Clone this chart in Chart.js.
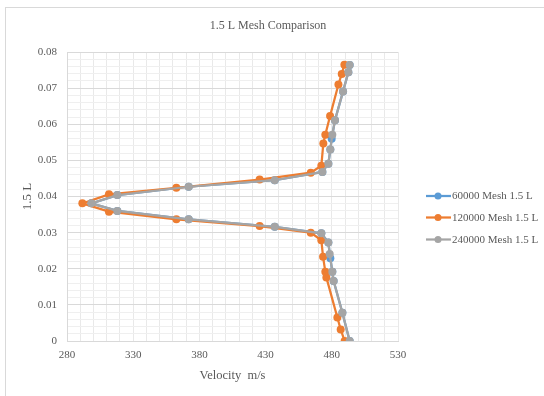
<!DOCTYPE html>
<html lang="en">
<head>
<meta charset="UTF-8">
<title>1.5 L Mesh Comparison</title>
<script src="https://cdn.jsdelivr.net/npm/chart.js"></script>
<style>
  html, body { margin: 0; padding: 0; background: #fff; }
  canvas { display: block; }
</style>
</head>
<body>
<canvas id="grafico" width="544" height="396"></canvas>
<script>
// series names and colours
const chartTitle = '1.5 L Mesh Comparison';
const seriesNames = ['60000 Mesh 1.5 L', '120000 Mesh 1.5 L', '240000 Mesh 1.5 L'];
const seriesColors = ['#5B9BD5', '#ED7D31', '#A5A5A5'];

// velocity (m/s) and position along 1.5 L (m)
const vel60  = [493.5, 488.0, 481.4, 480.4, 478.9, 477.4, 472.1, 436.9, 371.9, 318.0, 298.4, 318.0, 371.9, 436.9, 472.9, 477.4, 478.9, 479.9, 482.4, 488.5, 492.5, 493.5];
const pos60  = [0, 0.0078, 0.0166, 0.0192, 0.0229, 0.0273, 0.0298, 0.0316, 0.0337, 0.0360, 0.0381, 0.0404, 0.0427, 0.0445, 0.0468, 0.0491, 0.0530, 0.0560, 0.0611, 0.0691, 0.0744, 0.0764];

const vel120 = [489.7, 486.7, 484.2, 475.9, 475.1, 473.4, 472.1, 464.1, 425.5, 362.6, 311.7, 291.6, 311.7, 362.6, 425.5, 464.1, 472.1, 473.6, 475.1, 478.7, 485.0, 487.5, 489.5];
const pos120 = [0, 0.0032, 0.0065, 0.0176, 0.0192, 0.0233, 0.0279, 0.0300, 0.0318, 0.0337, 0.0358, 0.0381, 0.0406, 0.0424, 0.0447, 0.0466, 0.0485, 0.0547, 0.0571, 0.0623, 0.0710, 0.0739, 0.0765];

const vel240 = [493.5, 488.0, 481.4, 480.4, 478.4, 477.4, 472.1, 436.9, 371.9, 318.0, 298.4, 318.0, 371.9, 436.9, 472.9, 477.4, 478.9, 480.4, 482.4, 488.5, 492.5, 493.5];
const pos240 = [0, 0.0078, 0.0166, 0.0192, 0.0241, 0.0273, 0.0298, 0.0316, 0.0337, 0.0360, 0.0381, 0.0404, 0.0427, 0.0445, 0.0468, 0.0491, 0.0530, 0.0571, 0.0611, 0.0691, 0.0744, 0.0764];

const xLabels = [280, 330, 380, 430, 480, 530];
const yLabels = [0, 0.01, 0.02, 0.03, 0.04, 0.05, 0.06, 0.07, 0.08];

const serif = "'Liberation Serif', 'Times New Roman', serif";
const textColor = '#595959';

function toPoints(xs, ys) {
    return xs.map((v, i) => ({ x: v, y: ys[i] }));
}

function makeSet(i, xs, ys, order) {
    return {
        label: seriesNames[i],
        data: toPoints(xs, ys),
        showLine: true,
        borderColor: seriesColors[i],
        backgroundColor: seriesColors[i],
        borderWidth: 2.25,
        pointRadius: 4,
        pointHoverRadius: 4,
        pointBorderWidth: 0,
        order: order
    };
}

function isLabel(list, v) {
    return list.some(l => Math.abs(l - v) < 1e-7);
}

// white background, outer frame and title
const frame = {
    id: 'frame',
    beforeDraw(chart) {
        const c = chart.ctx;
        c.save();
        c.fillStyle = '#fff';
        c.fillRect(0, 0, chart.width, chart.height);
        c.strokeStyle = '#d9d9d9';
        c.lineWidth = 1;
        c.strokeRect(5.5, 7.5, 600, 500);
        c.fillStyle = textColor;
        c.font = '12px ' + serif;
        c.textAlign = 'center';
        c.textBaseline = 'middle';
        c.fillText(chartTitle, 268, 26);
        c.restore();
    }
};

// legend with line + marker like the original
const sideLegend = {
    id: 'sideLegend',
    afterDraw(chart) {
        const c = chart.ctx;
        const ys = [196, 217.5, 239.5];
        c.save();
        c.font = '11px ' + serif;
        c.textBaseline = 'middle';
        seriesNames.forEach((name, i) => {
            c.strokeStyle = seriesColors[i];
            c.lineWidth = 2.25;
            c.beginPath();
            c.moveTo(426, ys[i]);
            c.lineTo(451, ys[i]);
            c.stroke();
            c.fillStyle = seriesColors[i];
            c.beginPath();
            c.arc(438, ys[i], 3.5, 0, Math.PI * 2);
            c.fill();
            c.fillStyle = textColor;
            c.fillText(name, 452, ys[i] + 0.5);
        });
        c.restore();
    }
};

new Chart(document.getElementById('grafico').getContext('2d'), {
    type: 'scatter',
    data: {
        datasets: [
            makeSet(0, vel60, pos60, 3),
            makeSet(1, vel120, pos120, 2),
            makeSet(2, vel240, pos240, 1)
        ]
    },
    options: {
        responsive: false,
        animation: false,
        layout: { padding: { left: 0, right: 146, top: 52, bottom: 10 } },
        plugins: {
            legend: { display: false },
            tooltip: { enabled: false },
            title: { display: false }
        },
        scales: {
            x: {
                type: 'linear',
                min: 280,
                max: 530,
                afterFit(s) { s.height = 45; },
                ticks: {
                    stepSize: 10,
                    autoSkip: false,
                    maxRotation: 0,
                    padding: 8,
                    color: textColor,
                    font: { family: serif, size: 11 },
                    callback: v => isLabel(xLabels, v) ? String(v) : ''
                },
                grid: {
                    drawTicks: false,
                    color: '#e9e9e9',
                    lineWidth: 1
                },
                border: { color: '#d9d9d9' },
                title: {
                    display: true,
                    text: 'Velocity  m/s',
                    color: textColor,
                    font: { family: serif, size: 12.5 },
                    padding: { top: 0, bottom: 3 }
                }
            },
            y: {
                type: 'linear',
                min: 0,
                max: 0.08,
                afterFit(s) { s.width = 67; },
                ticks: {
                    stepSize: 0.002,
                    autoSkip: false,
                    padding: 10,
                    color: textColor,
                    font: { family: serif, size: 11 },
                    callback: v => isLabel(yLabels, v) ? (Math.abs(v) < 1e-9 ? '0' : v.toFixed(2)) : ''
                },
                grid: {
                    drawTicks: false,
                    lineWidth: 1,
                    color: ctx => (ctx.tick && isLabel(yLabels, ctx.tick.value)) ? '#d9d9d9' : '#efefef'
                },
                border: { color: '#d9d9d9' },
                title: {
                    display: true,
                    text: '1.5 L',
                    color: textColor,
                    font: { family: serif, size: 13 },
                    padding: { top: 20, bottom: 0 }
                }
            }
        }
    },
    plugins: [frame, sideLegend]
});
</script>
</body>
</html>
